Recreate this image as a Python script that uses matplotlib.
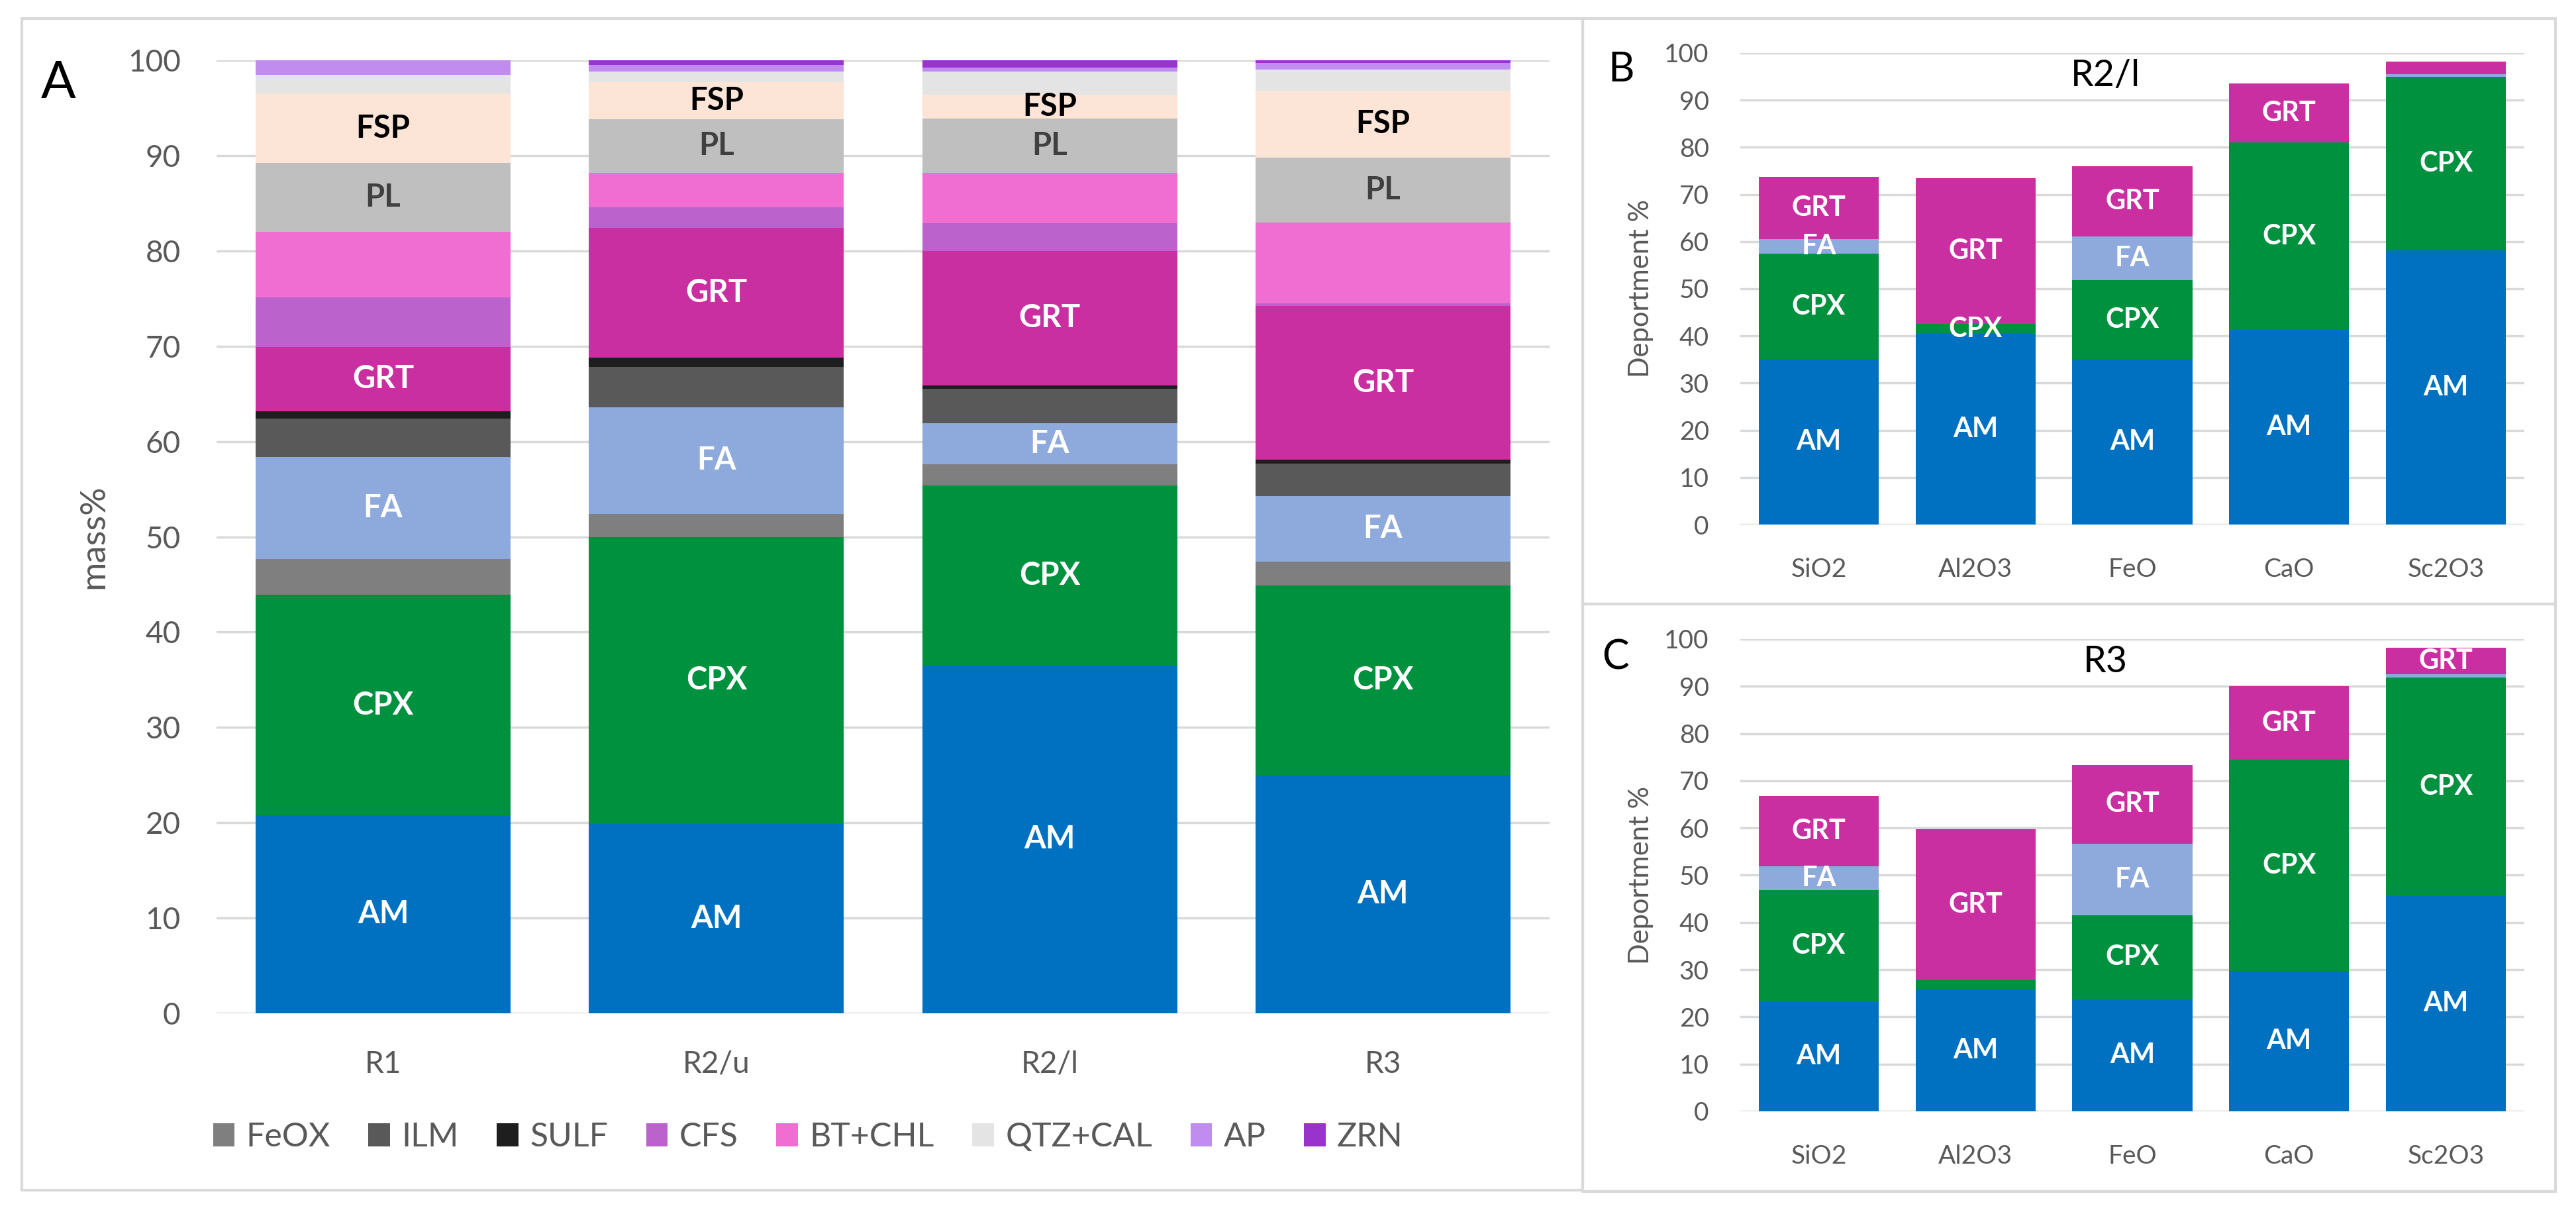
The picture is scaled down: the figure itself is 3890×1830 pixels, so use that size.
import numpy as np
import matplotlib.pyplot as plt
from matplotlib.patches import Rectangle, Patch

plt.rcParams['font.family'] = ['Lato', 'DejaVu Sans']

# ---- panel A: modal mineralogy (mass%) ----
samples = ['R1', 'R2/u', 'R2/l', 'R3']
AM = [20.8, 19.9, 36.5, 25.0]
CPX = [23.1, 30.1, 18.9, 19.9]
FeOX = [3.8, 2.4, 2.2, 2.5]
FA = [10.7, 11.2, 4.3, 6.9]
ILM = [4.0, 4.2, 3.6, 3.4]
SULF = [0.8, 1.0, 0.4, 0.4]
GRT = [6.7, 13.6, 14.1, 16.1]
CFS = [5.2, 2.2, 2.9, 0.3]
BT_CHL = [6.9, 3.6, 5.3, 8.5]
PL = [7.2, 5.6, 5.7, 6.8]
FSP = [7.3, 3.9, 2.5, 7.0]
QTZ_CAL = [2.0, 1.1, 2.4, 2.2]
AP = [1.5, 0.7, 0.4, 0.7]
ZRN = [0.0, 0.5, 0.8, 0.3]

# ---- panels B, C: deportment % ----
oxides = ['SiO2', 'Al2O3', 'FeO', 'CaO', 'Sc2O3']
B_AM = [35.1, 40.5, 35.1, 41.3, 58.1]
B_CPX = [22.3, 2.0, 16.7, 39.7, 36.8]
B_FA = [3.2, 0.0, 9.3, 0.0, 0.6]
B_GRT = [13.2, 30.9, 14.9, 12.5, 2.7]
C_AM = [23.2, 25.8, 23.9, 29.7, 45.7]
C_CPX = [23.7, 2.0, 17.6, 44.7, 46.1]
C_FA = [5.0, 0.0, 15.2, 0.0, 0.7]
C_GRT = [14.8, 32.0, 16.7, 15.6, 5.7]

colors = {'AM': '#0070C0', 'CPX': '#00913F', 'FeOX': '#7F7F7F', 'FA': '#8EA9DB',
          'ILM': '#595959', 'SULF': '#1E1E1E', 'GRT': '#C92FA0', 'CFS': '#BB62CC',
          'BT+CHL': '#F06ED2', 'PL': '#BFBFBF', 'FSP': '#FCE4D6', 'QTZ+CAL': '#E4E4E4',
          'AP': '#C08CF0', 'ZRN': '#9933CC'}
label_color = {'AM': 'white', 'CPX': 'white', 'FA': 'white', 'GRT': 'white',
               'PL': '#404040', 'FSP': 'black'}
tick_color = '#595959'
grid_color = '#D9D9D9'


def stacked(ax, cats, series, labelled, fs, skip=()):
    x = np.arange(len(cats))
    bottom = np.zeros(len(cats))
    for name, vals in series:
        vals = np.array(vals, dtype=float)
        ax.bar(x, vals, 0.765, bottom=bottom, color=colors[name], zorder=2)
        if name in labelled:
            for i, v in enumerate(vals):
                if v > 0 and (name, i) not in skip:
                    ax.text(x[i], bottom[i] + v / 2, name, ha='center', va='center',
                            color=label_color[name], fontsize=fs, fontweight='bold', zorder=3)
        bottom += vals
    ax.set_xlim(-0.5, len(cats) - 0.5)
    ax.set_ylim(0, 100)
    ax.set_yticks(range(0, 101, 10))
    ax.set_xticks(x)
    ax.set_xticklabels(cats)
    ax.grid(axis='y', color=grid_color, lw=2.5, zorder=0)
    ax.set_axisbelow(True)
    for s in ax.spines.values():
        s.set_visible(False)
    ax.tick_params(length=0, colors=tick_color)


fig = plt.figure(figsize=(38.91, 18.30), dpi=100)

# panel frames
for (x0, y0, w, h) in [(0.0085, 0.018, 0.6057, 0.9665), (0.6142, 0.5016, 0.3776, 0.4831),
                       (0.6142, 0.0169, 0.3776, 0.4847)]:
    fig.add_artist(Rectangle((x0, y0), w, h, transform=fig.transFigure, fill=False,
                             edgecolor=grid_color, lw=3))

axA = fig.add_axes([0.0840, 0.1639, 0.5174, 0.7864])
seriesA = [('AM', AM), ('CPX', CPX), ('FeOX', FeOX), ('FA', FA), ('ILM', ILM), ('SULF', SULF),
           ('GRT', GRT), ('CFS', CFS), ('BT+CHL', BT_CHL), ('PL', PL), ('FSP', FSP),
           ('QTZ+CAL', QTZ_CAL), ('AP', AP), ('ZRN', ZRN)]
stacked(axA, samples, seriesA, ['AM', 'CPX', 'FA', 'GRT', 'PL', 'FSP'], 34)
axA.tick_params(axis='y', labelsize=33, pad=39)
axA.tick_params(axis='x', labelsize=33, pad=40)
axA.set_ylabel('mass%', fontsize=38, color=tick_color, labelpad=20)

legend_names = ['FeOX', 'ILM', 'SULF', 'CFS', 'BT+CHL', 'QTZ+CAL', 'AP', 'ZRN']
handles = [Patch(facecolor=colors[n], label=n) for n in legend_names]
fig.legend(handles=handles, loc='center', bbox_to_anchor=(0.3136, 0.0617), ncol=8,
           frameon=False, fontsize=36, labelcolor=tick_color, handlelength=0.65,
           handleheight=0.7, handletextpad=0.35, columnspacing=1.15)

seriesB = [('AM', B_AM), ('CPX', B_CPX), ('FA', B_FA), ('GRT', B_GRT)]
seriesC = [('AM', C_AM), ('CPX', C_CPX), ('FA', C_FA), ('GRT', C_GRT)]
axB = fig.add_axes([0.6754, 0.5672, 0.3043, 0.3891])
stacked(axB, oxides, seriesB, ['AM', 'CPX', 'FA', 'GRT'], 30, skip=[('GRT', 4), ('FA', 4)])
axC = fig.add_axes([0.6754, 0.0831, 0.3043, 0.3896])
stacked(axC, oxides, seriesC, ['AM', 'CPX', 'FA', 'GRT'], 30, skip=[('CPX', 1), ('FA', 4)])
for ax, ttl in [(axB, 'R2/l'), (axC, 'R3')]:
    ax.tick_params(axis='y', labelsize=28, pad=34)
    ax.tick_params(axis='x', labelsize=28, pad=36)
    ax.set_ylabel('Deportment %', fontsize=30, color=tick_color, labelpad=12)
    ax.text(0.466, 0.951, ttl, transform=ax.transAxes, fontsize=40, ha='center', va='center')

fig.text(0.0159, 0.919, 'A', fontsize=56, va='baseline')
fig.text(0.624, 0.9328, 'B', fontsize=44, va='baseline')
fig.text(0.6217, 0.448, 'C', fontsize=44, va='baseline')

fig.savefig('out.png', dpi=100)
